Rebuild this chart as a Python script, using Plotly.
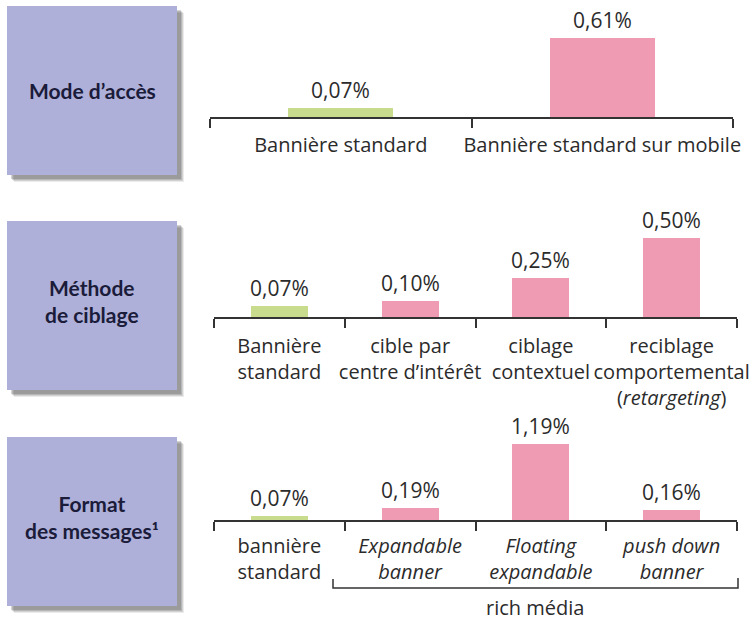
import plotly.graph_objects as go

# ---------------- data ----------------
panel_titles = ["Mode d’accès", "Méthode<br>de ciblage", "Format<br>des messages¹"]

cats1 = ["Bannière standard", "Bannière standard sur mobile"]
vals1 = [0.07, 0.61]
ticks1 = ["Bannière standard", "Bannière standard sur mobile"]

cats2 = ["Bannière standard", "cible par centre d’intérêt", "ciblage contextuel", "reciblage comportemental"]
vals2 = [0.07, 0.10, 0.25, 0.50]
ticks2 = ["Bannière<br>standard", "cible par<br>centre d’intérêt", "ciblage<br>contextuel",
          "reciblage<br>comportemental<br>(<i>retargeting</i>)"]

cats3 = ["bannière standard", "Expandable banner", "Floating expandable", "push down banner"]
vals3 = [0.07, 0.19, 1.19, 0.16]
ticks3 = ["bannière<br>standard", "<i>Expandable</i><br><i>banner</i>", "<i>Floating</i><br><i>expandable</i>",
          "<i>push down</i><br><i>banner</i>"]

group_label = "rich média"

# ---------------- style ----------------
W, H = 754, 624
GREEN = "#c9dc8e"
PINK = "#f09bb4"
BOX = "#aeb0d9"
AXIS = "#333333"
TXT = "#2b2b2b"
FONT = "Open Sans"
BOXFONT = "Lato"


def px(x):
    return x / W


def py(y):
    return 1 - y / H


fig = go.Figure()

panels = [
    dict(cats=cats1, vals=vals1, ticks=ticks1, x=(210, 733), base=117, top=10, scale=129.5, bw=0.40,
         box=(6, 175), standoff=9),
    dict(cats=cats2, vals=vals2, ticks=ticks2, x=(214, 737), base=317, top=200, scale=158, bw=0.435,
         box=(221, 390), standoff=10),
    dict(cats=cats3, vals=vals3, ticks=ticks3, x=(214, 737), base=520, top=400, scale=64, bw=0.435,
         box=(437, 606), standoff=7),
]

shapes = []
annotations = []
for i, p in enumerate(panels):
    n = i + 1
    xa = "x" if n == 1 else f"x{n}"
    ya = "y" if n == 1 else f"y{n}"
    colors = [GREEN] + [PINK] * (len(p["vals"]) - 1)
    fig.add_trace(go.Bar(
        x=p["cats"], y=p["vals"], width=p["bw"], marker=dict(color=colors, line=dict(width=0)),
        xaxis=xa, yaxis=ya, showlegend=False, hoverinfo="skip",
    ))
    for c, v in zip(p["cats"], p["vals"]):
        annotations.append(dict(
            x=c, y=v, xref=xa, yref=ya, text=f"{v:.2f}".replace(".", ",") + "%",
            showarrow=False, yanchor="middle", yshift=18,
            font=dict(family=FONT, size=21, color=TXT),
        ))
    height = p["base"] - p["top"]
    fig.layout[("xaxis" if n == 1 else f"xaxis{n}")] = dict(
        domain=[px(p["x"][0]), px(p["x"][1])], anchor=ya, type="category",
        range=[-0.5, len(p["cats"]) - 0.5], tickson="boundaries",
        tickvals=p["cats"], ticktext=p["ticks"], tickangle=0, automargin=False,
        ticks="outside", ticklen=9, tickwidth=1.5, tickcolor=AXIS,
        showline=True, linecolor=AXIS, linewidth=2, showgrid=False, zeroline=False,
        tickfont=dict(family=FONT, size=20, color=TXT), ticklabelstandoff=p["standoff"],
        fixedrange=True,
    )
    fig.layout[("yaxis" if n == 1 else f"yaxis{n}")] = dict(
        domain=[py(p["base"]), py(p["top"])], anchor=xa, range=[0, height / p["scale"]],
        visible=False, fixedrange=True, automargin=False,
    )
    # box with shadow
    b0, b1 = p["box"]
    for k, op in [(7, 0.10), (6, 0.14), (5, 0.18), (4, 0.22)]:
        shapes.append(dict(type="rect", xref="paper", yref="paper",
                           x0=px(7 + k), x1=px(177 + k), y0=py(b1 + k), y1=py(b0 + k),
                           fillcolor=f"rgba(60,60,60,{op})", line=dict(width=0), layer="below"))
    shapes.append(dict(type="rect", xref="paper", yref="paper",
                       x0=px(7), x1=px(177), y0=py(b1), y1=py(b0),
                       fillcolor=BOX, line=dict(width=0), layer="below"))
    cy = (b0 + b1) / 2 - (0 if n == 1 else 5)
    annotations.append(dict(
        x=px(92), y=py(cy), xref="paper", yref="paper", text=f"<b>{panel_titles[i]}</b>",
        showarrow=False, xanchor="center", yanchor="middle", align="center",
        font=dict(family=BOXFONT, size=21, color="#1b1b3a"),
    ))

# bracket for "rich média"
shapes.append(dict(type="path", xref="paper", yref="paper",
                   path=f"M {px(333)},{py(579)} L {px(333)},{py(588)} L {px(738)},{py(588)} L {px(738)},{py(578)}",
                   line=dict(color=AXIS, width=1.5)))
annotations.append(dict(
    x=px(535), y=py(607), xref="paper", yref="paper", text=group_label, showarrow=False,
    xanchor="center", yanchor="middle", font=dict(family=FONT, size=20, color=TXT),
))

fig.update_layout(
    width=W, height=H, margin=dict(l=0, r=0, t=0, b=0, autoexpand=False),
    paper_bgcolor="white", plot_bgcolor="rgba(0,0,0,0)",
    shapes=shapes, annotations=annotations, bargap=0,
)
fig.update_traces(cliponaxis=False)

fig.write_html("out.html", config={"displayModeBar": False},
               post_script="document.body.style.margin='0';document.body.style.overflow='hidden';")
